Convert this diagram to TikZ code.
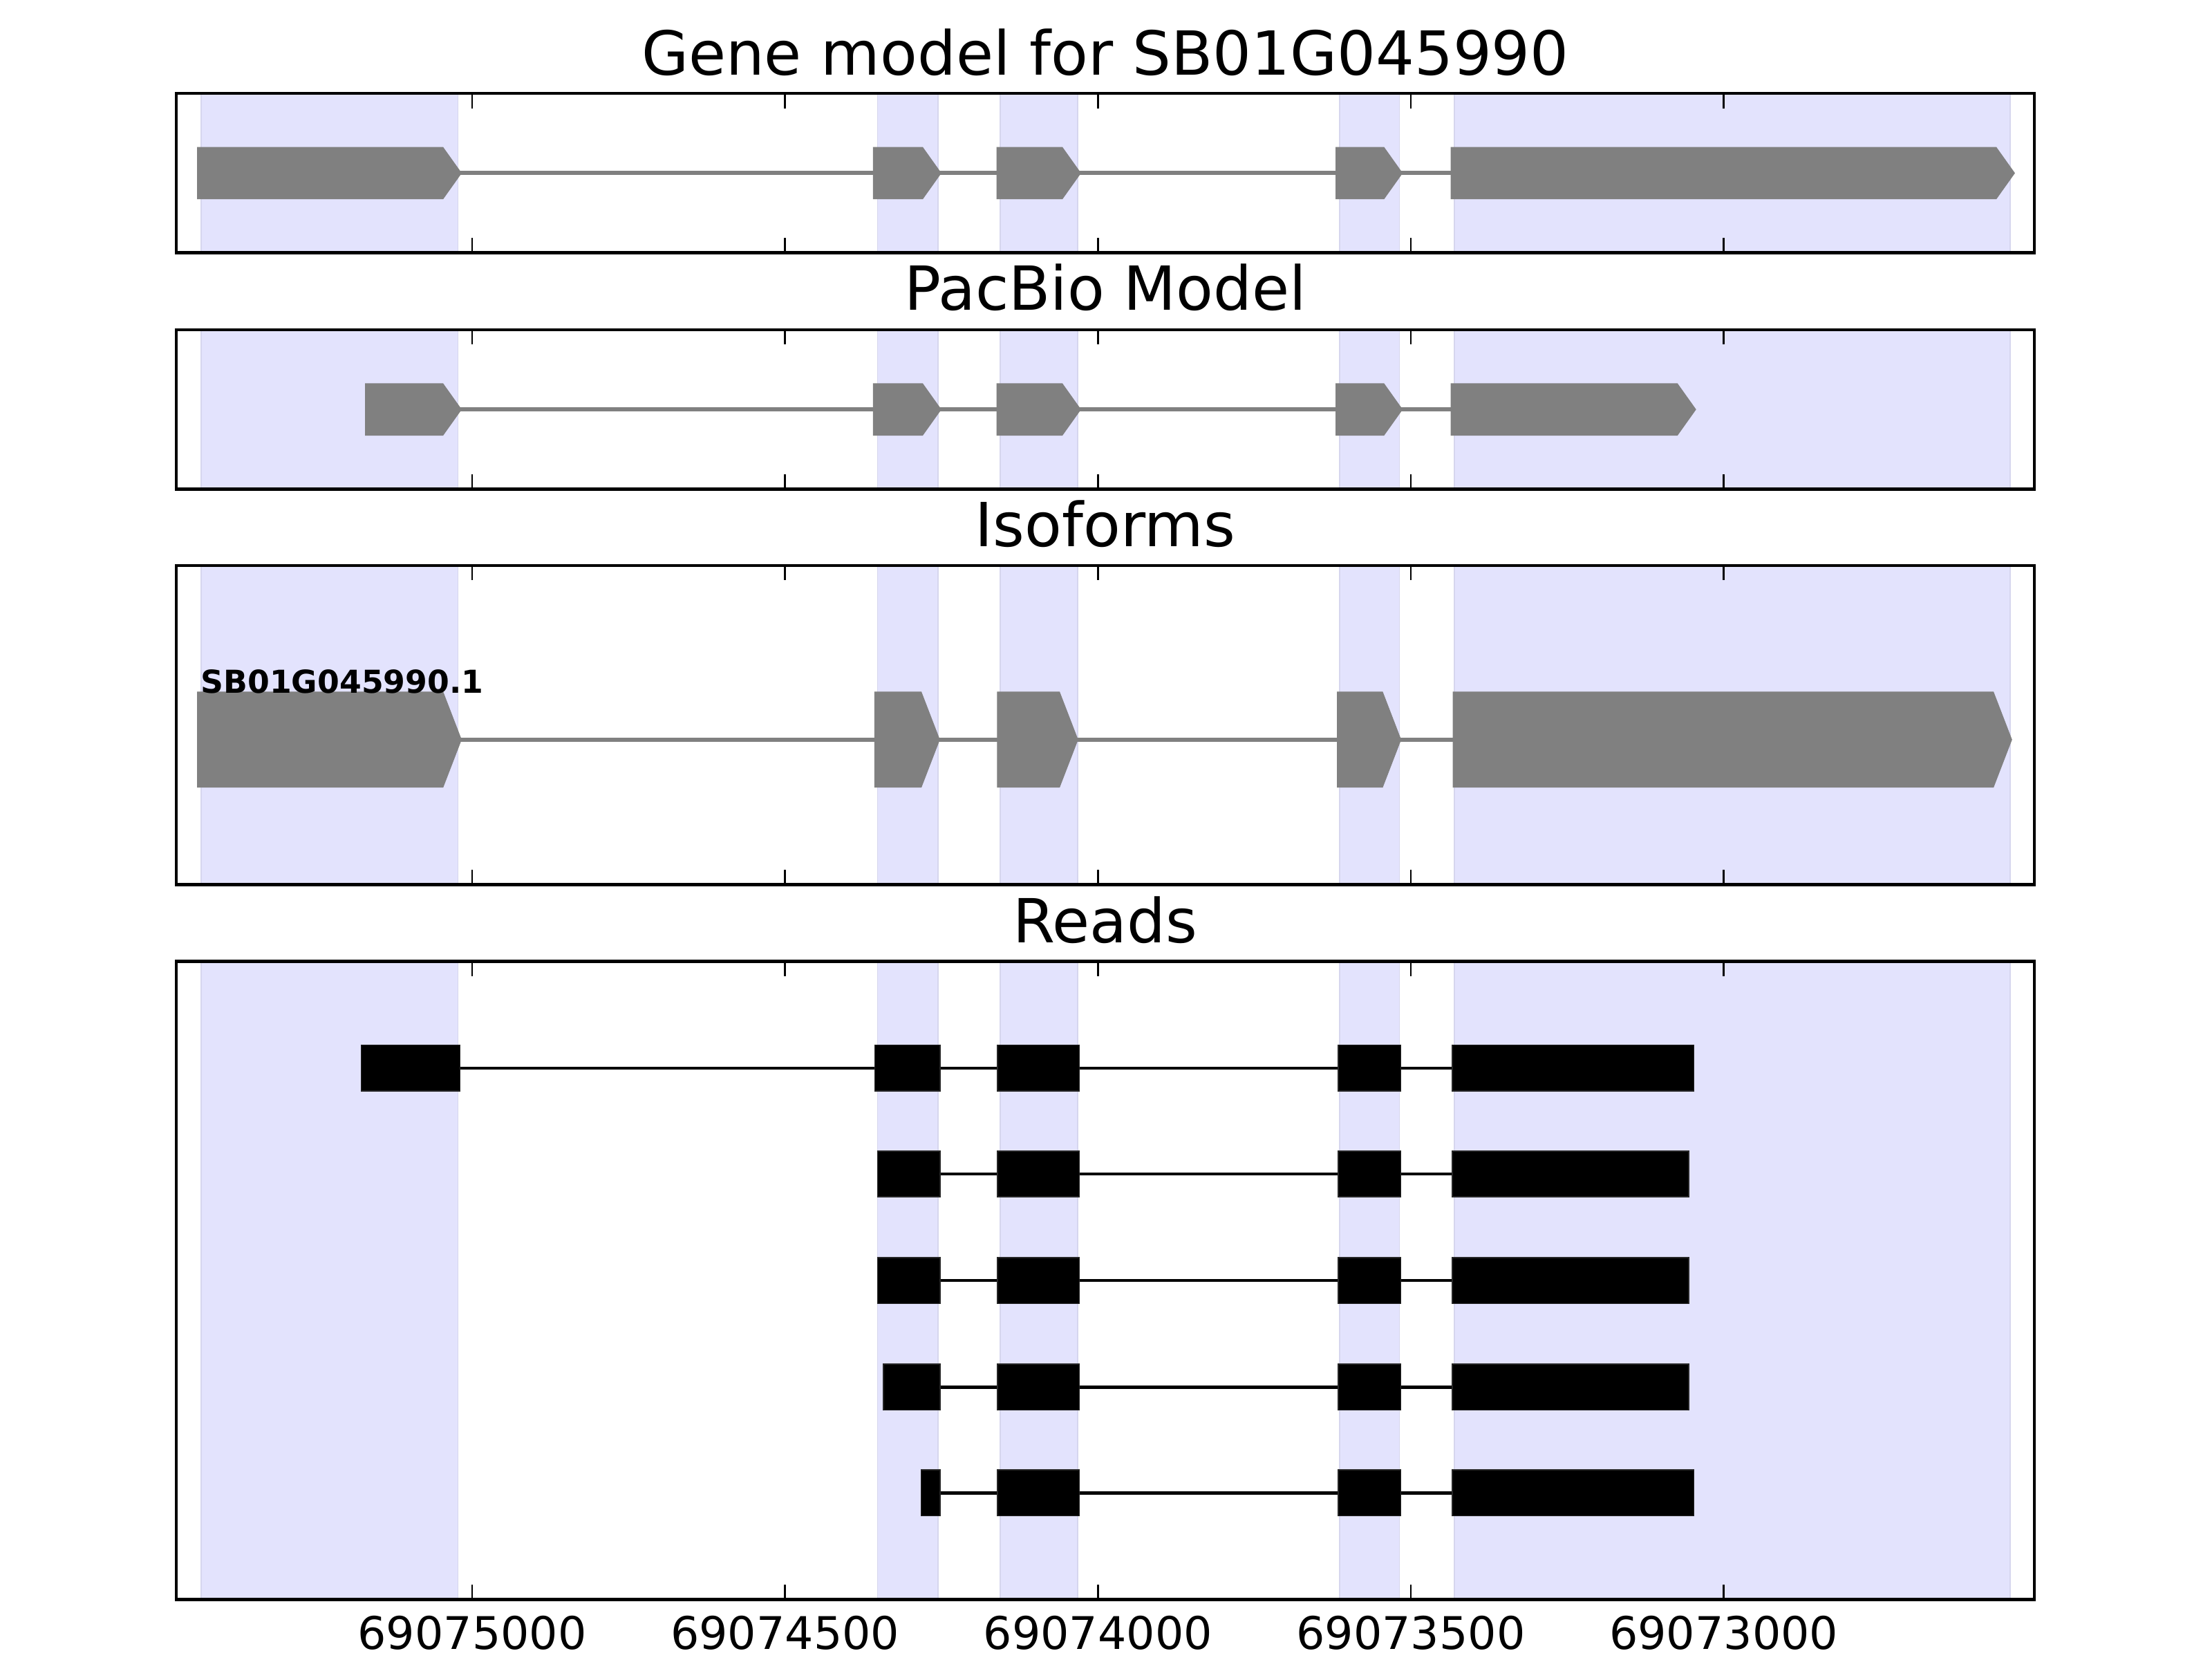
\documentclass[tikz,border=0pt]{standalone}
\usepackage{fontspec}
\setmainfont{DejaVu Sans}
\definecolor{bandfill}{RGB}{227,227,253}
\definecolor{bandedge}{RGB}{214,214,238}
\definecolor{exongray}{RGB}{128,128,128}
\newcommand\exonarrow[4]{% x1, x2 (tip), y centre, half height
  \path[exonshape] (#1,{#3-#4}) -- ({#2-13},{#3-#4}) -- (#2,#3) -- ({#2-13},{#3+#4}) -- (#1,{#3+#4}) -- cycle;}
\newcommand\bandset[2]{%
  \foreach \a/\b in {142.6/324.6,622/665,709/764,949.6/992,1031/1425}{\path[band] (\a,#1) rectangle (\b,#2);}}
\newcommand\frameticks[2]{%
  \draw[frame] (125,#1) rectangle (1442,#2);
  \foreach \t in {334.7,556.5,778.3,1000.1,1221.9}{%
    \draw[tickmark] (\t,#1) -- ++(0,10.5);
    \draw[tickmark] (\t,#2) -- ++(0,-10.5);}}
\newcommand\readrow[2]{% y centre, list of blocks a/b
  \foreach \a/\b [count=\i] in {#2}{%
    \ifnum\i=1 \xdef\firstx{\a}\fi
    \xdef\lastx{\b}}
  \draw[readline] (\firstx,#1) -- (\lastx,#1);
  \foreach \a/\b in {#2}{\path[readblock] (\a,{#1-16.25}) rectangle (\b,{#1+16.25});}}
\begin{document}
\begin{tikzpicture}[x=0.020408cm,y=-0.020408cm,
  frame/.style={draw=black,line width=1.35pt},
  tickmark/.style={line width=0.7pt},
  band/.style={fill=bandfill,draw=bandedge,line width=0.5pt},
  exonshape/.style={fill=exongray,draw=exongray,line width=0.3pt},
  intronline/.style={draw=exongray,line width=1.7pt},
  readline/.style={draw=black,line width=1.35pt},
  readblock/.style={fill=black,draw=black!85,line width=0.4pt},
  paneltitle/.style={font=\fontsize{25}{30}\selectfont,anchor=base,inner sep=0pt},
  ticklabel/.style={font=\fontsize{18.5}{22}\selectfont,anchor=base,inner sep=0pt},
  isolabel/.style={font=\bfseries\fontsize{13}{15}\selectfont,anchor=base west,inner sep=0pt}]
\useasboundingbox[fill=white] (0,0) rectangle (1568,1176);

% ---------- Panel 1: Gene model ----------
\bandset{66.2}{179.2}
\draw[intronline] (140,122.7) -- (1420,122.7);
\exonarrow{140}{327}{122.7}{18.25}
\exonarrow{619}{667}{122.7}{18.25}
\exonarrow{706.6}{766}{122.7}{18.25}
\exonarrow{947}{994}{122.7}{18.25}
\exonarrow{1028.6}{1428}{122.7}{18.25}
\frameticks{66.2}{179.2}
\node[paneltitle] (t1) at (783.5,53) {Gene model for SB01G045990};

% ---------- Panel 2: PacBio Model ----------
\bandset{233.7}{346.7}
\draw[intronline] (259,290.2) -- (1195,290.2);
\exonarrow{259}{327}{290.2}{18.25}
\exonarrow{619}{667}{290.2}{18.25}
\exonarrow{706.6}{766}{290.2}{18.25}
\exonarrow{947}{994}{290.2}{18.25}
\exonarrow{1028.6}{1202}{290.2}{18.25}
\frameticks{233.7}{346.7}
\node[paneltitle] (t2) at (783.5,220) {PacBio Model};

% ---------- Panel 3: Isoforms ----------
\bandset{400.8}{626.8}
\draw[intronline] (140,524.2) -- (1420,524.2);
\exonarrow{140}{327}{524.2}{33.75}
\exonarrow{620}{666}{524.2}{33.75}
\exonarrow{707}{764}{524.2}{33.75}
\exonarrow{948}{993}{524.2}{33.75}
\exonarrow{1030}{1426}{524.2}{33.75}
\node[isolabel] (iso) at (142,491) {SB01G045990.1};
\frameticks{400.8}{626.8}
\node[paneltitle] (t3) at (783.5,387.5) {Isoforms};

% ---------- Panel 4: Reads ----------
\bandset{681.5}{1133.5}
\readrow{757}{256/326,620/666.4,707/765,948.6/993,1029.5/1200.6}
\readrow{832}{622/666.4,707/765,948.6/993,1029.5/1197}
\readrow{907.5}{622/666.4,707/765,948.6/993,1029.5/1197}
\readrow{983}{626.3/666.4,707/765,948.6/993,1029.5/1197}
\readrow{1058}{653/666.4,707/765,948.6/993,1029.5/1200.6}
\frameticks{681.5}{1133.5}
\node[paneltitle] (t4) at (783.5,668) {Reads};

% ---------- x axis labels ----------
\node[ticklabel] (l1) at (334.7,1168.7) {69075000};
\node[ticklabel] (l2) at (556.5,1168.7) {69074500};
\node[ticklabel] (l3) at (778.3,1168.7) {69074000};
\node[ticklabel] (l4) at (1000.1,1168.7) {69073500};
\node[ticklabel] (l5) at (1221.9,1168.7) {69073000};
\end{tikzpicture}
\end{document}
